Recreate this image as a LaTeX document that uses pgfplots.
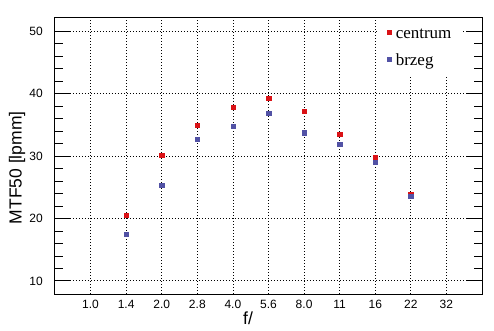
\documentclass[border=0pt]{standalone}
\usepackage{pgfplots}
\pgfplotsset{compat=1.18}
\usepackage{fontspec}
\setmainfont{Liberation Sans}
\newfontfamily\legfont{Liberation Serif}
\definecolor{cred}{RGB}{218,18,22}
\definecolor{cblue}{RGB}{82,82,165}
\begin{document}
\begin{tikzpicture}
\useasboundingbox (-55bp,-37bp) rectangle (439bp,294bp);
\begin{axis}[
  at={(0,0)}, anchor=south west,
  scale only axis, width=427bp, height=276bp,
  xmin=-1, xmax=11, ymin=7.9, ymax=52.1,
  xtick={0,1,2,3,4,5,6,7,8,9,10},
  xticklabels={1.0,1.4,2.0,2.8,4.0,5.6,8.0,11,16,22,32},
  ytick={10,20,30,40,50},
  minor y tick num=4,
  /pgf/number format/assume math mode=true,
  xtick style={draw=none},
  ytick style={black, line width=0.8bp},
  major tick length=15bp, minor tick length=8bp,
  tick align=inside,
  ytick pos=both,
  yticklabel pos=left,
  xticklabel pos=bottom,
  grid=major,
  major grid style={black, line width=0.8bp, dash pattern=on 0.8bp off 2.2bp},
  axis line style={black, line width=1bp},
  tick label style={font=\fontsize{12bp}{14bp}\selectfont, inner sep=0pt},
  yticklabel style={xshift=-12bp},
  xticklabel style={yshift=-6bp},
  ylabel={MTF50 [lpmm]},
  xlabel={f/},
  label style={font=\fontsize{17.5bp}{20bp}\selectfont},
  ylabel style={at={(axis description cs:-0.089,0.457)}, anchor=center},
  xlabel style={at={(axis description cs:0.452,-0.087)}, anchor=center},
  legend style={draw=none, fill=white, at={(axis description cs:0.754,0.997)}, anchor=north west,
    font=\legfont\fontsize{17bp}{20bp}\selectfont, row sep=11bp, column sep=5bp,
    inner xsep=10bp, inner ysep=7bp,
    nodes={inner sep=0pt, text height=12bp, text depth=4bp}},
  legend cell align=left,
  legend image code/.code={\draw[#1, mark size=1.8bp] plot coordinates {(0bp,2bp)};},
]
\addplot[only marks, mark=square*, mark size=2.2bp, color=cred, mark options={draw=cred, fill=cred}]
coordinates {(1,20.5) (2,30.1) (3,34.9) (4,37.8) (5,39.3) (6,37.2) (7,33.5) (8,29.8) (9,23.9)};
\addlegendentry{centrum}
\addplot[only marks, mark=square*, mark size=2.2bp, color=cblue, mark options={draw=cblue, fill=cblue}]
coordinates {(1,17.5) (2,25.3) (3,32.7) (4,34.8) (5,36.9) (6,33.7) (7,31.9) (8,29.0) (9,23.6)};
\addlegendentry{brzeg}
\end{axis}
\end{tikzpicture}
\end{document}
